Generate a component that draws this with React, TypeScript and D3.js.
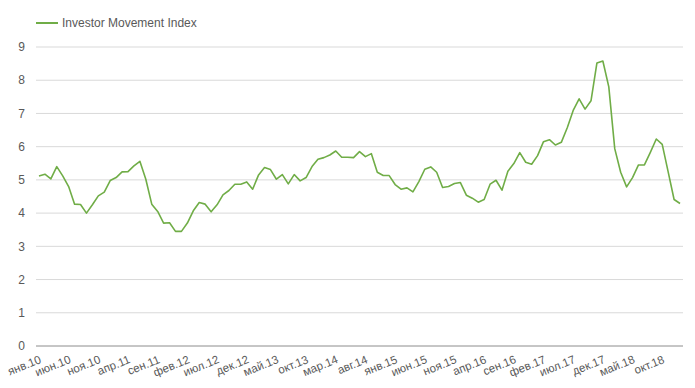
import React, { useEffect, useRef } from "react";
import * as d3 from "d3";

// month abbreviations used on the category axis
const monthNames = ["янв", "фев", "мар", "апр", "май", "июн", "июл", "авг", "сен", "окт", "ноя", "дек"];
const startYear = 2010;

// Investor Movement Index, monthly, янв.10 .. янв.19
const indexValues = [
  5.12, 5.17, 5.03, 5.4, 5.12, 4.8, 4.27, 4.26, 4.0, 4.25, 4.52, 4.63,
  4.98, 5.07, 5.24, 5.25, 5.42, 5.56, 5.02, 4.27, 4.05, 3.7, 3.71, 3.45,
  3.45, 3.7, 4.07, 4.32, 4.27, 4.04, 4.25, 4.55, 4.68, 4.87, 4.87, 4.94,
  4.72, 5.15, 5.37, 5.31, 5.02, 5.16, 4.88, 5.16, 4.97, 5.07, 5.4, 5.62,
  5.67, 5.75, 5.87, 5.68, 5.68, 5.67, 5.85, 5.7, 5.79, 5.23, 5.13, 5.13,
  4.86, 4.72, 4.76, 4.64, 4.95, 5.32, 5.39, 5.23, 4.77, 4.8, 4.89, 4.92,
  4.54, 4.45, 4.33, 4.41, 4.87, 4.99, 4.69, 5.26, 5.49, 5.82, 5.53, 5.47,
  5.73, 6.15, 6.21, 6.05, 6.13, 6.57, 7.09, 7.44, 7.13, 7.38, 8.52, 8.58,
  7.8, 5.94, 5.23, 4.79, 5.07, 5.45, 5.45, 5.83, 6.23, 6.07, 5.24, 4.41,
  4.29,
];

const categories = indexValues.map((_, i) => {
  const yy = String((startYear + Math.floor(i / 12)) % 100).padStart(2, "0");
  return `${monthNames[i % 12]}.${yy}`;
});

const yTicks = [0, 1, 2, 3, 4, 5, 6, 7, 8, 9];
const seriesName = "Investor Movement Index";

const App = () => {
  const svgRef = useRef<SVGSVGElement | null>(null);

  useEffect(() => {
    document.body.style.margin = "0";
    if (!svgRef.current) return;

    const svg = d3.select(svgRef.current);
    svg.selectAll("*").remove();

    const width = 695;
    const height = 388;
    const margin = { top: 47, right: 12, bottom: 42, left: 36 };
    const font = "'Liberation Sans', Arial, sans-serif";
    const textColor = "#595959";
    const lineColor = "#70AD47";

    svg.attr("width", width).attr("height", height);

    const x = d3.scaleBand<string>()
      .domain(categories)
      .range([margin.left, width - margin.right]);

    const y = d3.scaleLinear()
      .domain([0, 9])
      .range([height - margin.bottom, margin.top]);

    // gridlines
    svg.append("g")
      .selectAll("line")
      .data(yTicks.filter(t => t !== 0))
      .enter()
      .append("line")
      .attr("x1", margin.left)
      .attr("x2", width - margin.right)
      .attr("y1", d => y(d))
      .attr("y2", d => y(d))
      .attr("stroke", "#d9d9d9")
      .attr("stroke-width", 1);

    // y labels
    svg.append("g")
      .selectAll("text")
      .data(yTicks)
      .enter()
      .append("text")
      .attr("x", 25)
      .attr("y", d => y(d))
      .attr("dy", "0.35em")
      .attr("text-anchor", "end")
      .attr("font-family", font)
      .attr("font-size", 12)
      .attr("fill", textColor)
      .text(d => d);

    // baseline
    svg.append("line")
      .attr("x1", margin.left)
      .attr("x2", width - margin.right)
      .attr("y1", y(0))
      .attr("y2", y(0))
      .attr("stroke", "#8c8c8c")
      .attr("stroke-width", 1);

    // x labels, every 5th month
    const half = x.bandwidth() / 2;
    svg.append("g")
      .selectAll("text")
      .data(categories.filter((_, i) => i % 5 === 0))
      .enter()
      .append("text")
      .attr("transform", d => `translate(${(x(d) ?? 0) + half}, ${y(0) + 9}) rotate(-22)`)
      .attr("dy", "0.7em")
      .attr("text-anchor", "end")
      .attr("font-family", font)
      .attr("font-size", 11.5)
      .attr("fill", textColor)
      .text(d => d);

    // the series line
    const line = d3.line<number>()
      .x((_, i) => (x(categories[i]) ?? 0) + half)
      .y(d => y(d));

    svg.append("path")
      .datum(indexValues)
      .attr("d", line)
      .attr("fill", "none")
      .attr("stroke", lineColor)
      .attr("stroke-width", 1.6)
      .attr("stroke-linejoin", "round");

    // legend
    const legend = svg.append("g").attr("transform", "translate(36, 23)");
    legend.append("line")
      .attr("x1", 0)
      .attr("x2", 22)
      .attr("stroke", lineColor)
      .attr("stroke-width", 2);
    legend.append("text")
      .attr("x", 26)
      .attr("dy", "0.35em")
      .attr("font-family", font)
      .attr("font-size", 12)
      .attr("fill", textColor)
      .text(seriesName);
  }, []);

  return (
    <div>
      <svg ref={svgRef} style={{ display: "block" }}></svg>
    </div>
  );
};

export default App;
